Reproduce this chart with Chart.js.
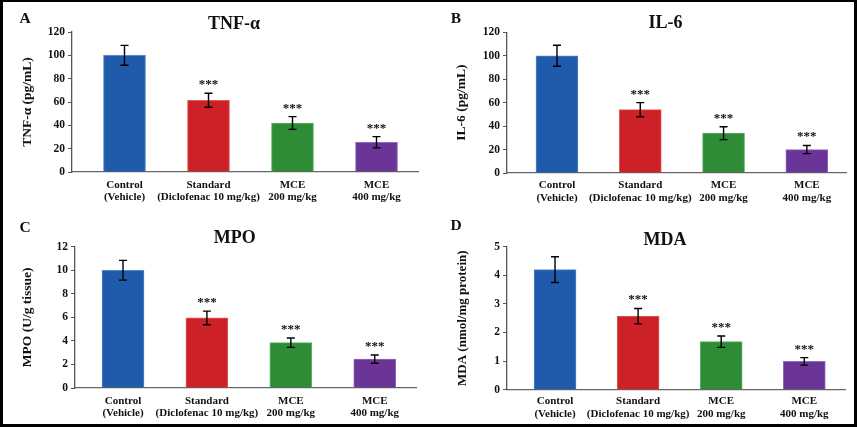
<!DOCTYPE html>
<html>
<head>
<meta charset="utf-8">
<title>Inflammatory markers</title>
<script src="https://cdn.jsdelivr.net/npm/chart.js@4.4.1/dist/chart.umd.min.js"></script>
<style>
  html, body { margin: 0; padding: 0; background: #fff; }
  #frame {
    position: relative; width: 857px; height: 427px; box-sizing: border-box;
    border: 3px solid #000; border-top-width: 2px; overflow: hidden; background: #fff;
  }
  .panel { position: absolute; }
</style>
</head>
<body>
<div id="frame">
  <div class="panel" style="left:0;top:0;width:425px;height:210px"><canvas id="chartA"></canvas></div>
  <div class="panel" style="left:425px;top:0;width:426px;height:210px"><canvas id="chartB"></canvas></div>
  <div class="panel" style="left:0;top:210px;width:425px;height:212px"><canvas id="chartC"></canvas></div>
  <div class="panel" style="left:425px;top:210px;width:426px;height:212px"><canvas id="chartD"></canvas></div>
</div>
<script>
const groups = [
  ['Control', '(Vehicle)'],
  ['Standard', '(Diclofenac 10 mg/kg)'],
  ['MCE', '200 mg/kg'],
  ['MCE', '400 mg/kg']
];
const signif = ['', '***', '***', '***'];

const tnfMean = [100, 61.5, 42, 25.5];
const tnfErr = [8.5, 6, 5.5, 4.8];
const tnfTicks = [0, 20, 40, 60, 80, 100, 120];

const il6Mean = [100, 54, 34, 20];
const il6Err = [9, 6, 5.5, 3.5];
const il6Ticks = [0, 20, 40, 60, 80, 100, 120];

const mpoMean = [10, 5.95, 3.85, 2.45];
const mpoErr = [0.84, 0.58, 0.4, 0.35];
const mpoTicks = [0, 2, 4, 6, 8, 10, 12];

const mdaMean = [4.2, 2.57, 1.68, 0.99];
const mdaErr = [0.45, 0.27, 0.2, 0.13];
const mdaTicks = [0, 1, 2, 3, 4, 5];

const FONT = "'Liberation Serif', 'Times New Roman', serif";
const FILLS = ['#1f5aab', '#cc2127', '#2e8b36', '#6a3597'];
const EDGES = ['#5488d0', '#e25c5c', '#5fb464', '#9469c0'];

Chart.defaults.font.family = FONT;
Chart.defaults.font.weight = 'bold';
Chart.defaults.color = '#111';

// error bars, significance stars, panel letter and title
const panelText = {
  id: 'panelText',
  afterDatasetsDraw(chart) {
    const { ctx, chartArea, scales: { x, y } } = chart;
    const ds = chart.data.datasets[0];
    const p = chart.options.plugins.panelText;
    ctx.save();
    ctx.strokeStyle = '#000';
    ctx.lineWidth = 1.4;
    ctx.fillStyle = '#111';
    ds.data.forEach((pt, i) => {
      const px = x.getPixelForValue(pt.x);
      const top = y.getPixelForValue(pt.y + ds.errors[i]);
      const bot = y.getPixelForValue(pt.y - ds.errors[i]);
      ctx.beginPath();
      ctx.moveTo(px, top); ctx.lineTo(px, bot);
      ctx.moveTo(px - 4, top); ctx.lineTo(px + 4, top);
      ctx.moveTo(px - 4, bot); ctx.lineTo(px + 4, bot);
      ctx.stroke();
      if (ds.marks[i]) {
        ctx.font = `bold 13px ${FONT}`;
        ctx.textAlign = 'center';
        ctx.textBaseline = 'alphabetic';
        ctx.fillText(ds.marks[i], px, top - 5);
      }
    });
    ctx.textAlign = 'center';
    ctx.textBaseline = 'middle';
    ctx.font = `bold 18px ${FONT}`;
    ctx.fillText(p.title, (chartArea.left + chartArea.right) / 2 + p.titleShift, p.titleY);
    ctx.font = `bold 15.5px ${FONT}`;
    ctx.fillText(p.letter, p.letterX, p.letterY);
    ctx.restore();
  }
};

function makeChart(id, c) {
  return new Chart(document.getElementById(id), {
    type: 'bar',
    data: {
      datasets: [{
        data: c.mean.map((v, i) => ({ x: i, y: v })),
        errors: c.err,
        marks: signif,
        backgroundColor: FILLS,
        borderColor: EDGES,
        borderWidth: 1,
        barThickness: 42
      }]
    },
    options: {
      responsive: true,
      maintainAspectRatio: false,
      animation: false,
      layout: { padding: { top: c.padTop, right: c.padRight, bottom: 0, left: 0 } },
      plugins: {
        legend: { display: false },
        tooltip: { enabled: false },
        panelText: {
          title: c.title, titleShift: -11, titleY: c.titleY,
          letter: c.letter, letterX: c.letterX, letterY: c.letterY
        }
      },
      scales: {
        x: {
          type: 'linear',
          offset: false,
          min: c.xMin,
          max: c.xMax,
          grid: { display: false },
          border: { display: true, color: '#666', width: 1.3 },
          afterBuildTicks: s => { s.ticks = groups.map((g, i) => ({ value: i })); },
          afterFit: s => { s.height = c.xHeight; },
          ticks: {
            padding: c.xPad,
            autoSkip: false,
            maxRotation: 0,
            minRotation: 0,
            font: { size: 11, weight: 'bold', lineHeight: 1.12 },
            color: '#111',
            callback: v => groups[v] || ''
          }
        },
        y: {
          min: c.ticks[0],
          max: c.ticks[c.ticks.length - 1],
          afterBuildTicks: s => { s.ticks = c.ticks.map(v => ({ value: v })); },
          afterFit: s => { s.width = c.yWidth; },
          grid: { display: true, drawOnChartArea: false, tickLength: 4, color: '#555' },
          border: { display: true, color: '#555', width: 1.3 },
          ticks: { padding: 3, font: { size: 11.5, weight: 'bold' }, color: '#111' },
          title: {
            display: true,
            text: c.yTitle,
            font: { size: c.yTitleSize, weight: 'bold' },
            color: '#111',
            padding: { top: c.yTitlePad, bottom: 0 }
          }
        }
      }
    },
    plugins: [panelText]
  });
}

makeChart('chartA', {
  mean: tnfMean, err: tnfErr, ticks: tnfTicks,
  title: 'TNF-α', letter: 'A', yTitle: 'TNF-α (pg/mL)', yTitleSize: 13.5, yTitlePad: 16,
  padTop: 30, padRight: 10, xHeight: 40, xPad: -1, yWidth: 69, xMin: -0.625, xMax: 3.494,
  titleY: 22, letterX: 22, letterY: 17
});
makeChart('chartB', {
  mean: il6Mean, err: il6Err, ticks: il6Ticks,
  title: 'IL-6', letter: 'B', yTitle: 'IL-6 (pg/mL)', yTitleSize: 13.5, yTitlePad: 25,
  padTop: 30.3, padRight: 8, xHeight: 39, xPad: -1.7, yWidth: 79, xMin: -0.6, xMax: 3.47,
  titleY: 21.5, letterX: 28, letterY: 17
});
makeChart('chartC', {
  mean: mpoMean, err: mpoErr, ticks: mpoTicks,
  title: 'MPO', letter: 'C', yTitle: 'MPO (U/g tissue)', yTitleSize: 13.5, yTitlePad: 16,
  padTop: 34.7, padRight: 11.3, xHeight: 36, xPad: -1.3, yWidth: 72, xMin: -0.572, xMax: 3.5,
  titleY: 26, letterX: 22, letterY: 15.5
});
makeChart('chartD', {
  mean: mdaMean, err: mdaErr, ticks: mdaTicks,
  title: 'MDA', letter: 'D', yTitle: 'MDA (nmol/mg protein)', yTitleSize: 13, yTitlePad: 27,
  padTop: 34.7, padRight: 9, xHeight: 34.3, xPad: -2.4, yWidth: 79, xMin: -0.578, xMax: 3.49,
  titleY: 28, letterX: 28, letterY: 13.5
});
</script>
</body>
</html>
